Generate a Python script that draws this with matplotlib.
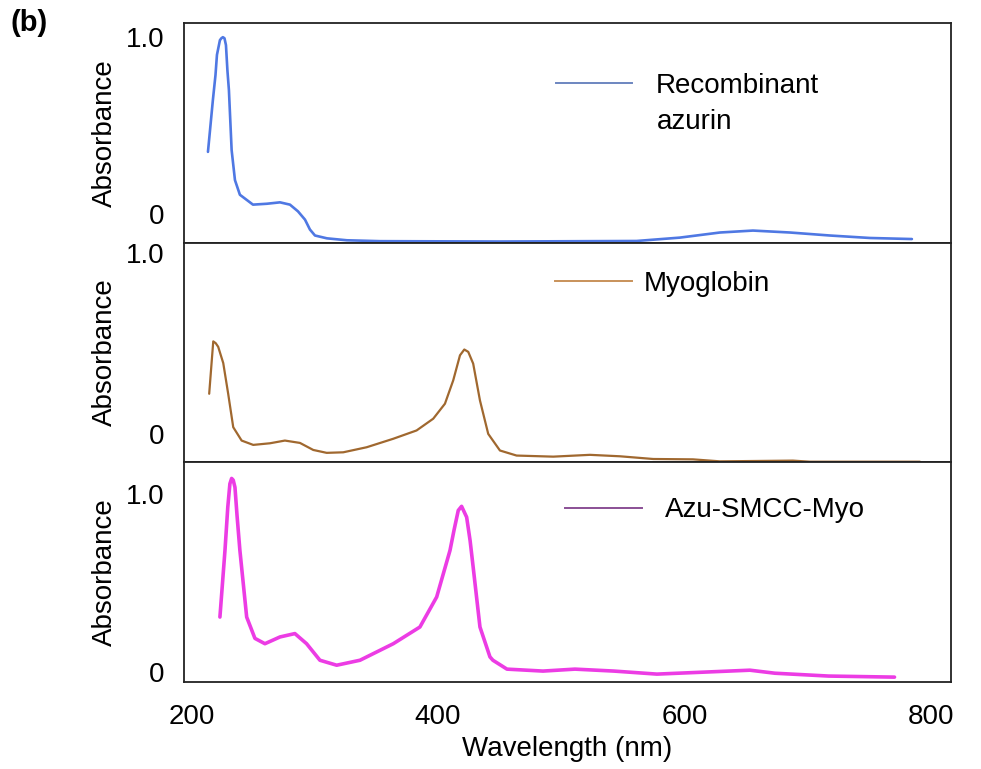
import matplotlib

matplotlib.use("Agg")
import matplotlib.pyplot as plt

# ─────────────────────────────────────────────
# DATA
# ─────────────────────────────────────────────
azurin_nm = [213.4, 217.4, 219.5, 220.7, 223.1, 224.3, 225.5, 226.8, 228.0, 229.2,
             230.4, 232.6, 235.3, 239.3, 249.9, 261.2, 271.8, 279.9, 286.4, 292.1,
             296.1, 300.2, 309.9, 326.1, 352.9, 450.0, 561.0, 596.0, 628.6, 655.4,
             685.4, 717.8, 750.3, 784.3]
azurin_abs = [0.35, 0.644, 0.785, 0.90, 0.983, 0.994, 1.0, 0.994, 0.955, 0.81,
              0.70, 0.36, 0.19, 0.107, 0.051, 0.056, 0.064, 0.051, 0.013, -0.034,
              -0.090, -0.124, -0.14, -0.151, -0.156, -0.158, -0.155, -0.136, -0.107, -0.096,
              -0.107, -0.124, -0.138, -0.144]

myo_nm = [214.4, 217.7, 219.7, 221.7, 225.8, 229.8, 233.9, 240.7, 250.1, 263.7,
          275.8, 288.0, 298.8, 309.7, 323.1, 342.1, 363.7, 382.6, 396.1, 405.6,
          412.3, 417.8, 421.3, 424.5, 428.5, 434.0, 440.7, 450.2, 463.7, 493.4,
          523.2, 547.5, 574.5, 606.7, 628.6, 687.8, 701.6, 790.8]
myo_abs = [0.22, 0.51, 0.50, 0.48, 0.39, 0.22, 0.035, -0.039, -0.063, -0.054,
           -0.039, -0.052, -0.091, -0.107, -0.104, -0.076, -0.029, 0.017, 0.082, 0.165,
           0.294, 0.433, 0.465, 0.452, 0.387, 0.183, -0.002, -0.094, -0.122, -0.128,
           -0.118, -0.126, -0.141, -0.143, -0.154, -0.15, -0.156, -0.156]

conj_nm = [223.1, 227.2, 229.5, 231.2, 232.6, 233.9, 235.3, 237.0, 239.3, 244.8,
           251.5, 259.6, 271.8, 283.9, 293.4, 304.2, 317.8, 336.7, 363.7, 385.3,
           398.9, 409.7, 413.0, 416.4, 419.1, 423.2, 426.0, 428.5, 434.0, 442.1,
           444.5, 455.9, 485.1, 511.0, 542.7, 577.5, 615.3, 652.9, 673.2, 716.7,
           770.2]
conj_abs = [0.31, 0.685, 0.93, 1.06, 1.09, 1.08, 1.04, 0.88, 0.685, 0.31,
            0.19, 0.16, 0.198, 0.217, 0.16, 0.067, 0.039, 0.067, 0.16, 0.254,
            0.423, 0.685, 0.80, 0.91, 0.933, 0.872, 0.74, 0.59, 0.254, 0.086,
            0.067, 0.017, 0.006, 0.017, 0.006, -0.011, 0.0, 0.011, -0.006, -0.022,
            -0.028]

x_ticks = [200, 400, 600, 800]
y_ticks = [0, 1.0]
y_ticklabels = ["0", "1.0"]

panels = [
    # (x, y, colour, linewidth, label, ylim, legend anchor, text pad)
    (azurin_nm, azurin_abs, "#4f78e3", 1.9, "Recombinant", (-0.165, 1.08), (0.485, 0.714), 0.85),
    (myo_nm, myo_abs, "#a0682f", 1.6, "Myoglobin", (-0.16, 1.056), (0.484, 0.813), 0.45),
    (conj_nm, conj_abs, "#ec3ce4", 2.6, "Azu-SMCC-Myo", (-0.056, 1.18), (0.497, 0.782), 0.85),
]
legend_colors = ["#6d86c0", "#c8925a", "#8a4f95"]

plt.rcParams["font.family"] = ["Liberation Sans", "DejaVu Sans"]
FS = 20

fig, axes = plt.subplots(3, 1, sharex=True, figsize=(9.81, 7.69), dpi=100)
fig.subplots_adjust(left=0.1876, right=0.9694, top=0.970, bottom=0.113, hspace=0)

for ax, (x, y, col, lw, lab, ylim, anchor, tpad), lcol in zip(axes, panels, legend_colors):
    ax.plot(x, y, color=col, lw=lw, solid_capstyle="round", solid_joinstyle="round")
    ax.set_ylim(*ylim)
    ax.set_yticks(y_ticks)
    ax.set_yticklabels(y_ticklabels)
    ax.tick_params(axis="both", length=0, labelsize=FS, pad=14)
    ax.set_ylabel("Absorbance", fontsize=FS, labelpad=6)
    for s in ax.spines.values():
        s.set_linewidth(1.3)
        s.set_color("#222222")
    h = plt.Line2D([], [], color=lcol, lw=1.4)
    ax.legend([h], [lab], loc="center left", bbox_to_anchor=anchor, frameon=False,
              fontsize=FS, handlelength=2.75, handletextpad=tpad, borderpad=0,
              borderaxespad=0)

axes[0].text(0.617, 0.55, "azurin", transform=axes[0].transAxes, fontsize=FS,
             va="center", ha="left")

axes[-1].set_xlim(194, 816)
axes[-1].set_xticks(x_ticks)
axes[-1].tick_params(axis="x", pad=16)
axes[-1].set_xlabel("Wavelength (nm)", fontsize=FS, labelpad=4)

fig.text(0.011, 0.970, "(b)", fontsize=21, fontweight="bold", va="center")

fig.savefig("out.png", dpi=100)
